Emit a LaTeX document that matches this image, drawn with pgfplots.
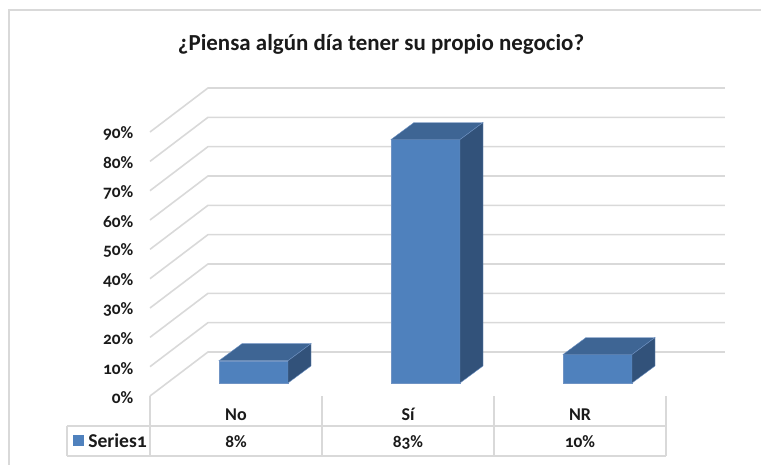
\documentclass[border=0pt]{standalone}
\usepackage{pgfplots}
\pgfplotsset{compat=1.18}
\usepackage{fontspec}
\setmainfont[Numbers=OldStyle]{Carlito}
\definecolor{gridc}{HTML}{D9D9D9}
\definecolor{frontc}{HTML}{4F81BD}
\definecolor{topc}{HTML}{3E6594}
\definecolor{sidec}{HTML}{32527A}
\definecolor{edgec}{HTML}{6F93C4}
\definecolor{txt}{HTML}{1A1A1A}
\pgfplotsset{
  base/.style={
    scale only axis, width=387pt, height=198pt,
    xmin=-0.5, xmax=2.5, ymin=0, ymax=90, clip=false,
  },
  g/.style={draw=gridc, line width=1.2pt, forget plot},
  t/.style={draw=gridc, line width=1.4pt, forget plot},
}
\newcommand{\cellfont}{\fontsize{13pt}{15pt}\selectfont\bfseries\color{txt}}
\begin{document}
\begin{tikzpicture}
\useasboundingbox (0,0) rectangle (570.75pt,348.75pt);
% front plane: ticks, grid, data table
\begin{axis}[base, at={(112.5pt,51.75pt)}, anchor=south west,
  axis line style={draw=none}, major tick length=0pt,
  xtick={0,1,2}, xticklabels={No,Sí,NR},
  xticklabel style={yshift=-18pt, anchor=base, font=\fontsize{13.5pt}{15pt}\selectfont\bfseries\color{txt}},
  ytick={0,10,20,30,40,50,60,70,80,90},
  yticklabels={0\%,10\%,20\%,30\%,40\%,50\%,60\%,70\%,80\%,90\%},
  yticklabel style={xshift=-9pt, yshift=-1.2pt, anchor=east, font=\cellfont},
]
% chart frame
\addplot[draw=gridc, line width=1.5pt, forget plot] coordinates {(-1.32,-23.5) (-1.32,131.6) (3.06,131.6)};
% gridlines
\addplot[g] coordinates {(-0.5,0) (-0.163,15) (2.843,15)};
\addplot[g] coordinates {(-0.5,10) (-0.163,25) (2.843,25)};
\addplot[g] coordinates {(-0.5,20) (-0.163,35) (2.843,35)};
\addplot[g] coordinates {(-0.5,30) (-0.163,45) (2.843,45)};
\addplot[g] coordinates {(-0.5,40) (-0.163,55) (2.843,55)};
\addplot[g] coordinates {(-0.5,50) (-0.163,65) (2.843,65)};
\addplot[g] coordinates {(-0.5,60) (-0.163,75) (2.843,75)};
\addplot[g] coordinates {(-0.5,70) (-0.163,85) (2.843,85)};
\addplot[g] coordinates {(-0.5,80) (-0.163,95) (2.843,95)};
\addplot[g] coordinates {(-0.5,90) (-0.163,105) (2.843,105)};
% data table
\addplot[t] coordinates {(-0.9826,-10.23) (2.5,-10.23)};
\addplot[t] coordinates {(-0.9826,-20.45) (2.5,-20.45)};
\addplot[t] coordinates {(-0.9826,-10.23) (-0.9826,-20.45)};
\addplot[t] coordinates {(-0.5,0) (-0.5,-20.45)};
\addplot[t] coordinates {(0.5,0) (0.5,-20.45)};
\addplot[t] coordinates {(1.5,0) (1.5,-20.45)};
\addplot[t] coordinates {(2.5,0) (2.5,-20.45)};
\addplot[fill=frontc, draw=none, forget plot] coordinates {(-0.9477,-13.3) (-0.8837,-13.3) (-0.8837,-17.1) (-0.9477,-17.1)} -- cycle;
\node[font=\fontsize{14.7pt}{15pt}\selectfont\bfseries\color{txt}, anchor=base west, inner xsep=0pt, inner ysep=0pt] at (axis cs:-0.8605,-17.4) {Series1};
\node[font=\cellfont, anchor=base, inner sep=0pt] at (axis cs:0,-17.4) {8\%};
\node[font=\cellfont, anchor=base, inner sep=0pt] at (axis cs:1,-17.4) {83\%};
\node[font=\cellfont, anchor=base, inner sep=0pt] at (axis cs:2,-17.4) {10\%};
\node[font=\fontsize{17.2pt}{20pt}\selectfont\bfseries\color{txt}] at (axis cs:0.843,120) {¿Piensa algún día tener su propio negocio?};
\end{axis}
% bars, on the floor of the 3D box
\begin{axis}[base, at={(125.625pt,61.5pt)}, anchor=south west, hide axis]
\addplot[ybar, bar width=51.75pt, fill=frontc, draw=edgec, line width=0.3pt, forget plot] coordinates {(0,7.6) (1,83) (2,9.7)};
\addplot[fill=topc, draw=edgec, line width=0.3pt, forget plot] coordinates {(-0.2006,7.6) (0.2006,7.6) (0.3343,13.4) (-0.0669,13.4)} -- cycle;
\addplot[fill=sidec, draw=edgec, line width=0.3pt, forget plot] coordinates {(0.2006,0) (0.3343,5.8) (0.3343,13.4) (0.2006,7.6)} -- cycle;
\addplot[fill=topc, draw=edgec, line width=0.3pt, forget plot] coordinates {(0.7994,83) (1.2006,83) (1.3343,88.8) (0.9331,88.8)} -- cycle;
\addplot[fill=sidec, draw=edgec, line width=0.3pt, forget plot] coordinates {(1.2006,0) (1.3343,5.8) (1.3343,88.8) (1.2006,83)} -- cycle;
\addplot[fill=topc, draw=edgec, line width=0.3pt, forget plot] coordinates {(1.7994,9.7) (2.2006,9.7) (2.3343,15.5) (1.9331,15.5)} -- cycle;
\addplot[fill=sidec, draw=edgec, line width=0.3pt, forget plot] coordinates {(2.2006,0) (2.3343,5.8) (2.3343,15.5) (2.2006,9.7)} -- cycle;
\end{axis}
\end{tikzpicture}
\end{document}
